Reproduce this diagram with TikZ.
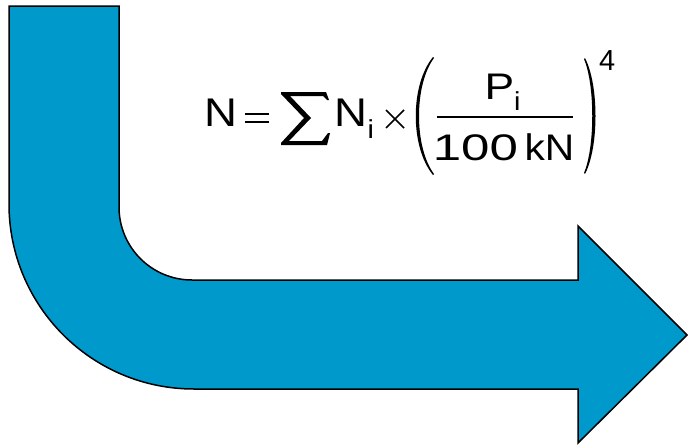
\documentclass[tikz,border=0pt]{standalone}
\usepackage{fontspec}
\setmainfont{Liberation Sans}
\definecolor{arrowblue}{RGB}{0,153,204}
\tikzset{
  bigarrow/.style={fill=arrowblue, draw=black, line width=1.5pt, line join=miter},
  ftxt/.style={inner sep=0pt, anchor=base west, font=\fontsize{40}{42}\selectfont, xscale=1.14, transform shape},
  ffrac/.style={inner sep=0pt, anchor=base west, font=\fontsize{37}{39}\selectfont, transform shape},
  fsub/.style={inner sep=0pt, anchor=base west, font=\fontsize{26}{28}\selectfont, xscale=1.1, transform shape},
  fexp/.style={inner sep=0pt, anchor=base west, font=\fontsize{29}{31}\selectfont, transform shape},
  fline/.style={line width=2pt},
}
\begin{document}
\begin{tikzpicture}[x=1pt,y=1pt]
\useasboundingbox (0,0) rectangle (688,-447);
% bent arrow
\draw[bigarrow] (9,-6) -- (119,-6) -- (119,-207)
  arc[start angle=180, end angle=270, radius=73]
  -- (578,-280) -- (578,-226) -- (687,-335) -- (578,-443) -- (578,-389) -- (194,-389)
  arc[start angle=270, end angle=180, radius=185] -- cycle;
% formula
\node[ftxt] (n1) at (204.5,-126) {N};
\draw[fline] (245,-113.5) -- (269,-113.5);
\draw[fline] (245,-121.5) -- (269,-121.5);
\fill (281,-92) -- (326,-92) -- (329,-100) -- (327,-100) -- (323,-96) -- (290,-96)
  -- (311,-118) -- (289,-141) -- (322,-141) -- (328,-133) -- (330,-133) -- (327,-145)
  -- (281,-145) -- (281,-143) -- (304,-118) -- (281,-94) -- cycle;
\node[ftxt] (n2) at (334.5,-126) {N};
\node[fsub] (i1) at (367.5,-138) {i};
\draw[line width=1.6pt] (386,-110) -- (404,-128);
\draw[line width=1.6pt] (386,-128) -- (404,-110);
% parentheses
\fill (433,-57) .. controls (410,-85) and (410,-147) .. (433,-175)
  -- (434,-174) .. controls (414,-147) and (414,-85) .. (434,-58) -- cycle;
\fill (585,-58) .. controls (599,-85) and (599,-147) .. (585,-174)
  -- (584,-173) .. controls (595,-147) and (595,-85) .. (584,-59) -- cycle;
\node[ffrac, xscale=1.2] (p) at (484.5,-99.5) {P};
\node[fsub] (i2) at (514,-110) {i};
\draw[fline] (437,-116.5) -- (573,-116.5);
\node[ffrac, xscale=1.38] (num) at (432.5,-160) {100};
\node[ffrac, xscale=1.1] (kn) at (524.3,-160) {kN};
\node[fexp] (four) at (599,-70) {4};
\end{tikzpicture}
\end{document}
